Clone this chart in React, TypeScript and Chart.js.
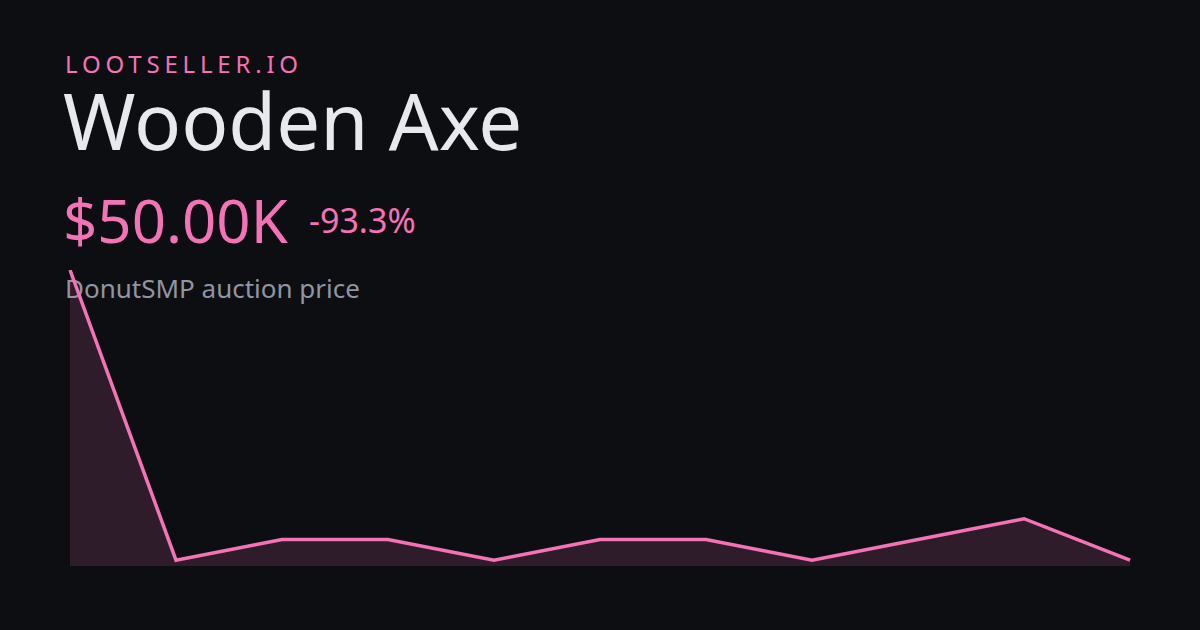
import React, { useEffect, useRef } from "react";
import { Chart, registerables } from "chart.js";

Chart.register(...registerables);

const labels: string[] = ["1", "2", "3", "4", "5", "6", "7", "8", "9", "10", "11"];
const prices: number[] = [750000, 50000, 100000, 100000, 50000, 100000, 100000, 50000, 100000, 150000, 50000];
const yMin = 36000;
const yMax = 750000;

const brand = "LOOTSELLER.IO";
const title = "Wooden Axe";
const priceText = "$50.00K";
const changeText = "-93.3%";
const subtitle = "DonutSMP auction price";

const PINK = "#f472b6";
const BG = "#0d0e12";
const FONT = "'Noto Sans', 'Open Sans', sans-serif";

export default function App() {
  const ref = useRef<HTMLCanvasElement | null>(null);

  useEffect(() => {
    if (!ref.current) return;
    const chart = new Chart(ref.current, {
      type: "line",
      data: {
        labels,
        datasets: [
          {
            data: prices,
            borderColor: PINK,
            borderWidth: 3.5,
            backgroundColor: "rgba(244,114,182,0.15)",
            fill: "start",
            pointRadius: 0,
            tension: 0,
          },
        ],
      },
      options: {
        animation: false,
        responsive: false,
        maintainAspectRatio: false,
        layout: { padding: 10 },
        plugins: { legend: { display: false }, tooltip: { enabled: false } },
        scales: {
          x: { display: false, offset: false },
          y: { display: false, min: yMin, max: yMax },
        },
      },
    });
    return () => chart.destroy();
  }, []);

  const base: React.CSSProperties = {
    position: "absolute",
    fontFamily: FONT,
    lineHeight: 1,
    whiteSpace: "nowrap",
    margin: 0,
  };

  return (
    <div
      style={{
        position: "fixed",
        left: 0,
        top: 0,
        width: 1200,
        height: 630,
        background: BG,
        overflow: "hidden",
      }}
    >
      <div style={{ ...base, left: 65, top: 52, fontSize: 24, color: PINK, letterSpacing: "0.2em" }}>{brand}</div>
      <div style={{ ...base, left: 63, top: 81, fontSize: 78, color: "#e8e9ee" }}>{title}</div>
      <div style={{ ...base, left: 63, top: 190, fontSize: 60, color: PINK }}>{priceText}</div>
      <div style={{ ...base, left: 309, top: 203, fontSize: 34, color: PINK }}>{changeText}</div>
      <div style={{ ...base, left: 65, top: 275, fontSize: 26, color: "#9095a3" }}>{subtitle}</div>
      <canvas
        ref={ref}
        width={1080}
        height={316}
        style={{ position: "absolute", left: 60, top: 260, width: 1080, height: 316 }}
      />
    </div>
  );
}
